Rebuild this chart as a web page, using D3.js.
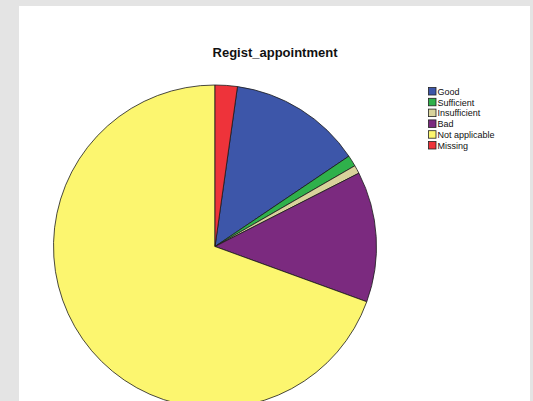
<!DOCTYPE html>
<html>
<head>
<meta charset="utf-8">
<script src="https://cdn.jsdelivr.net/npm/d3@7"></script>
<style>
  html, body { margin: 0; padding: 0; background: #e4e4e4; }
  svg { display: block; }
</style>
</head>
<body>
<svg id="chart" width="533" height="401"></svg>
<script>
// Responses to "Regist_appointment" (counts)
const categories = ["Good", "Sufficient", "Insufficient", "Bad", "Not applicable", "Missing"];
const counts = [48, 4, 3, 47, 250, 8];
const colors = ["#3d56a9", "#2fb14b", "#d8d39b", "#7b2a7f", "#fcf66f", "#ee333a"];
const title = "Regist_appointment";

const svg = d3.select("#chart");
const W = 533, H = 401;

// page background and white chart panel
svg.append("rect").attr("width", W).attr("height", H).attr("fill", "#e4e4e4");
svg.append("rect").attr("x", 19).attr("y", 6).attr("width", 511).attr("height", H - 6).attr("fill", "#ffffff");

svg.append("text")
  .attr("x", 275).attr("y", 57)
  .attr("text-anchor", "middle")
  .attr("font-family", "Liberation Sans, Arial, sans-serif")
  .attr("font-weight", "bold")
  .attr("font-size", 13)
  .attr("fill", "#111")
  .text(title);

const cx = 215, cy = 246.5, r = 161.5;
const total = d3.sum(counts);
const missingIdx = categories.indexOf("Missing");
// slices run clockwise from 12 o'clock; the Missing slice sits just before Good
const start = 2 * Math.PI * counts[missingIdx] / total;

const pie = d3.pie().sort(null).value(d => d.v)
  .startAngle(start).endAngle(start + 2 * Math.PI);
const arc = d3.arc().innerRadius(0).outerRadius(r);
const data = categories.map((c, i) => ({ c, v: counts[i], col: colors[i] }));

svg.append("g").attr("transform", `translate(${cx},${cy})`)
  .selectAll("path")
  .data(pie(data))
  .join("path")
  .attr("d", arc)
  .attr("fill", d => d.data.col)
  .attr("stroke", "#1a1a1a")
  .attr("stroke-width", 0.8)
  .attr("stroke-linejoin", "round");

// legend
const lg = svg.append("g").attr("transform", "translate(428,87)");
const rowH = 10.8;
const rows = lg.selectAll("g").data(data).join("g")
  .attr("transform", (d, i) => `translate(0,${i * rowH})`);
rows.append("rect")
  .attr("x", 0.5).attr("y", 0.5).attr("width", 7.5).attr("height", 7.5)
  .attr("fill", d => d.col).attr("stroke", "#222").attr("stroke-width", 0.8);
rows.append("text")
  .attr("x", 9.5).attr("y", 7.8)
  .attr("font-family", "Liberation Sans, Arial, sans-serif")
  .attr("font-size", 9)
  .attr("fill", "#111")
  .text(d => d.c);
</script>
</body>
</html>
